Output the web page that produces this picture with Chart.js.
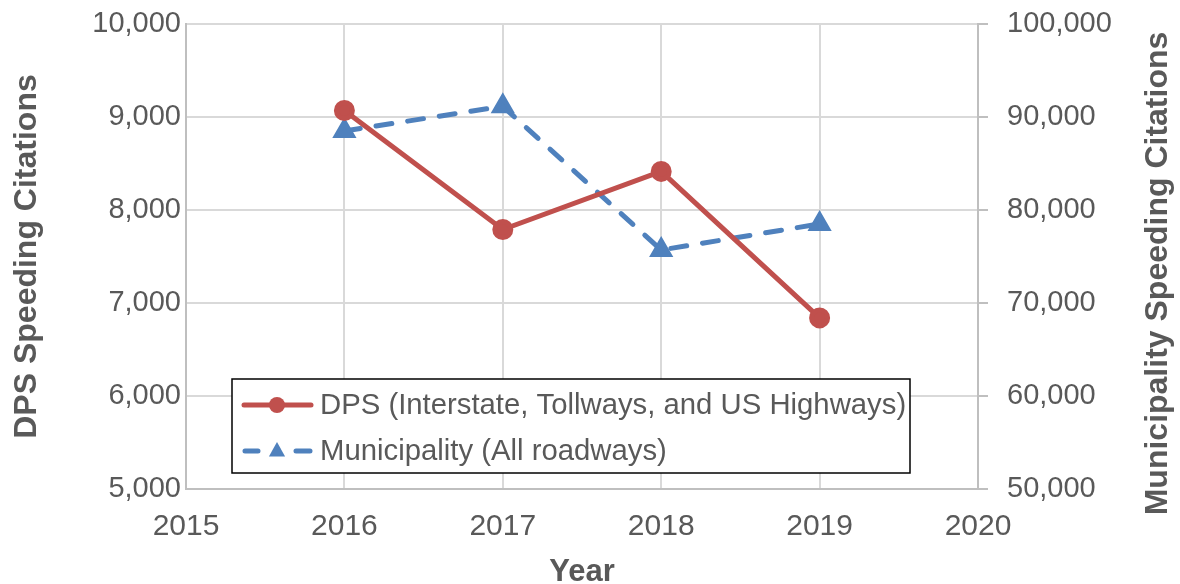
<!DOCTYPE html>
<html>
<head>
<meta charset="utf-8">
<script src="https://cdn.jsdelivr.net/npm/chart.js@4/dist/chart.umd.min.js"></script>
<style>
  html, body { margin: 0; padding: 0; background: #fff; }
  #wrap { width: 1180px; height: 584px; }
</style>
</head>
<body>
<div id="wrap"><canvas id="citations"></canvas></div>
<script>
// ===== DATA =====
const years = [2016, 2017, 2018, 2019];
const dpsCitations = [9070, 7790, 8415, 6840];
const municipalCitations = [88500, 91150, 75700, 78500];
const xTicks = [2015, 2016, 2017, 2018, 2019, 2020];
const leftTicks = [5000, 6000, 7000, 8000, 9000, 10000];
const rightTicks = [50000, 60000, 70000, 80000, 90000, 100000];

const seriesLabels = ['DPS (Interstate, Tollways, and US Highways)', 'Municipality (All roadways)'];

const FONT = '"Liberation Sans", Arial, sans-serif';
const TEXT = '#595959';
const GRID = '#d9d9d9';
const AXIS = '#bfbfbf';
const RED = '#c0504d';
const BLUE = '#4f81bd';

const fmt = v => v.toLocaleString('en-US');

// keep the plot box fixed: no extra padding from edge labels
function fixBox(size) {
  return s => {
    if (s.isHorizontal()) s.height = size; else s.width = size;
    s.paddingTop = 0; s.paddingBottom = 0;
    s.paddingLeft = 0; s.paddingRight = 0;
  };
}

// ===== LEGEND BOX + RIGHT TITLE =====
const extrasPlugin = {
  id: 'extras',
  afterDraw(chart) {
    const ctx = chart.ctx;
    const area = chart.chartArea;
    ctx.save();

    // right axis title, reading bottom to top
    ctx.translate(1158, (area.top + area.bottom) / 2 + 17);
    ctx.rotate(-Math.PI / 2);
    ctx.fillStyle = TEXT;
    ctx.font = 'bold 32px ' + FONT;
    ctx.textAlign = 'center';
    ctx.textBaseline = 'middle';
    ctx.fillText('Municipality Speeding Citations', 0, 0);
    ctx.restore();

    // legend box
    ctx.save();
    const bx = 232, by = 379, bw = 678, bh = 94;
    ctx.fillStyle = '#fff';
    ctx.fillRect(bx, by, bw, bh);
    ctx.strokeStyle = '#000';
    ctx.lineWidth = 1.5;
    ctx.strokeRect(bx, by, bw, bh);

    chart.data.datasets.forEach((ds, i) => {
      const y = by + 26 + i * 46;
      ctx.strokeStyle = ds.borderColor;
      ctx.lineWidth = ds.borderWidth;
      ctx.lineCap = 'round';
      ctx.beginPath();
      if (ds.borderDash) {
        ctx.moveTo(245, y); ctx.lineTo(258, y);
        ctx.moveTo(296, y); ctx.lineTo(310, y);
      } else {
        ctx.moveTo(244, y); ctx.lineTo(311, y);
      }
      ctx.stroke();
      ctx.fillStyle = ds.pointBackgroundColor;
      ctx.beginPath();
      if (ds.pointStyle === 'triangle') {
        const r = ds.pointRadius;
        ctx.moveTo(277, y - r);
        ctx.lineTo(277 + r * 0.9, y + r * 0.6);
        ctx.lineTo(277 - r * 0.9, y + r * 0.6);
        ctx.closePath();
      } else {
        ctx.arc(277, y, ds.pointRadius, 0, Math.PI * 2);
      }
      ctx.fill();

      ctx.fillStyle = TEXT;
      ctx.font = '29.3px ' + FONT;
      ctx.textAlign = 'left';
      ctx.textBaseline = 'middle';
      ctx.fillText(ds.label, 320, y + 1);
    });
    ctx.restore();
  }
};

// ===== CHART =====
new Chart(document.getElementById('citations'), {
  type: 'line',
  data: {
    datasets: [{
      label: seriesLabels[0],
      data: years.map((yr, i) => ({ x: yr, y: dpsCitations[i] })),
      yAxisID: 'y',
      borderColor: RED,
      backgroundColor: RED,
      pointBackgroundColor: RED,
      pointBorderColor: RED,
      borderWidth: 5,
      pointRadius: 8,
      pointStyle: 'circle',
      tension: 0
    }, {
      label: seriesLabels[1],
      data: years.map((yr, i) => ({ x: yr, y: municipalCitations[i] })),
      yAxisID: 'y2',
      borderColor: BLUE,
      backgroundColor: BLUE,
      pointBackgroundColor: BLUE,
      pointBorderColor: BLUE,
      borderWidth: 5,
      borderDash: [16, 16],
      borderCapStyle: 'round',
      pointRadius: 9,
      pointStyle: 'triangle',
      tension: 0
    }]
  },
  options: {
    responsive: true,
    maintainAspectRatio: false,
    animation: false,
    layout: { padding: { top: 24, left: 0, right: 0, bottom: 0 } },
    plugins: {
      legend: { display: false },
      tooltip: { enabled: false }
    },
    scales: {
      x: {
        type: 'linear',
        min: xTicks[0],
        max: xTicks[xTicks.length - 1],
        afterBuildTicks: s => { s.ticks = xTicks.map(v => ({ value: v })); },
        afterFit: fixBox(95),
        grid: { color: GRID, lineWidth: 2, drawTicks: false },
        border: { color: AXIS, width: 2 },
        ticks: {
          color: TEXT, font: { family: FONT, size: 30 }, padding: 20,
          callback: v => String(v)
        },
        title: {
          display: true, text: 'Year', color: TEXT,
          font: { family: FONT, size: 31, weight: 'bold' },
          padding: { top: 13, bottom: -7 }
        }
      },
      y: {
        position: 'left',
        min: leftTicks[0],
        max: leftTicks[leftTicks.length - 1],
        afterBuildTicks: s => { s.ticks = leftTicks.map(v => ({ value: v })); },
        afterFit: fixBox(186),
        grid: { color: GRID, lineWidth: 2, drawTicks: false },
        border: { color: AXIS, width: 2 },
        ticks: {
          color: TEXT, font: { family: FONT, size: 29 }, padding: 5,
          callback: v => fmt(v)
        },
        title: {
          display: true, text: 'DPS Speeding Citations', color: TEXT,
          font: { family: FONT, size: 32, weight: 'bold' },
          padding: { top: 8, bottom: 0 }
        }
      },
      y2: {
        position: 'right',
        min: rightTicks[0],
        max: rightTicks[rightTicks.length - 1],
        afterBuildTicks: s => { s.ticks = rightTicks.map(v => ({ value: v })); },
        afterFit: fixBox(202),
        grid: { color: AXIS, lineWidth: 2, drawOnChartArea: false, drawTicks: true, tickLength: 10 },
        border: { color: AXIS, width: 2 },
        ticks: {
          color: TEXT, font: { family: FONT, size: 29 }, padding: 19,
          callback: v => fmt(v)
        }
      }
    }
  },
  plugins: [extrasPlugin]
});
</script>
</body>
</html>
